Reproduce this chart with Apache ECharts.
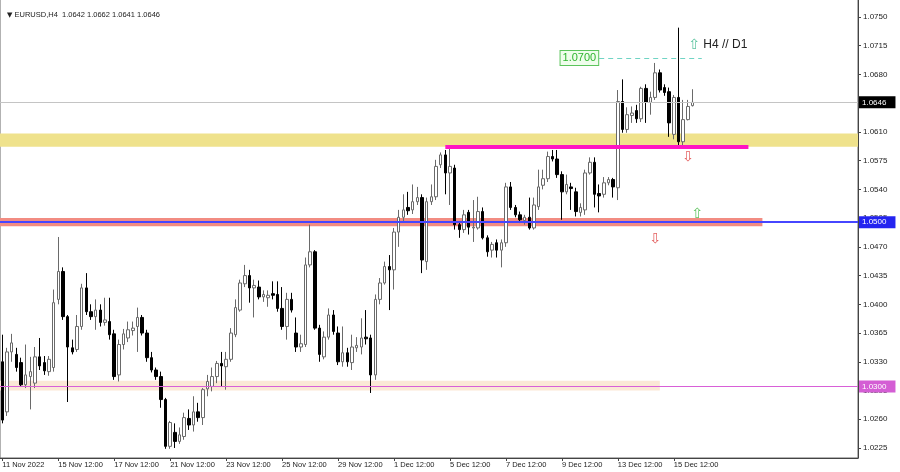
<!DOCTYPE html>
<html><head><meta charset="utf-8">
<script src="https://cdn.jsdelivr.net/npm/echarts@6/dist/echarts.min.js"></script>
<style>html,body{margin:0;padding:0;background:#fff}#c{width:900px;height:472px}</style>
</head><body><div id="c"></div>
<script>
// ---- data (EURUSD H4) ----
const opens = [1.0330,1.0269,1.0342,1.0339,1.0329,1.0302,1.0312,1.0304,1.0336,1.0329,1.0318,1.0323,1.0406,1.0440,1.0385,1.0347,1.0345,1.0373,1.0420,1.0391,
1.0385,1.0393,1.0378,1.0379,1.0364,1.0314,1.0351,1.0359,1.0368,1.0373,1.0384,1.0365,1.0335,1.0320,1.0312,1.0284,1.0227,1.0244,1.0233,1.0239,
1.0261,1.0253,1.0269,1.0262,1.0297,1.0300,1.0312,1.0328,1.0324,1.0333,1.0363,1.0393,1.0425,1.0435,1.0420,1.0421,1.0409,1.0408,1.0413,1.0412,
1.0395,1.0373,1.0406,1.0365,1.0348,1.0351,1.0448,1.0464,1.0371,1.0336,1.0360,1.0387,1.0365,1.0330,1.0341,1.0329,1.0347,1.0348,1.0360,1.0359,
1.0314,1.0406,1.0426,1.0446,1.0442,1.0488,1.0506,1.0518,1.0515,1.0525,1.0530,1.0452,1.0525,1.0531,1.0570,1.0582,1.0560,1.0566,1.0497,1.0491,
1.0512,1.0493,1.0493,1.0513,1.0481,1.0466,1.0475,1.0466,1.0475,1.0543,1.0518,1.0509,1.0502,1.0506,1.0493,1.0519,1.0545,1.0553,1.0580,1.0577,
1.0558,1.0537,1.0543,1.0537,1.0512,1.0515,1.0560,1.0573,1.0535,1.0534,1.0548,1.0552,1.0542,1.0647,1.0613,1.0630,1.0636,1.0626,1.0663,1.0646,
1.0652,1.0682,1.0664,1.0659,1.0607,1.0652,1.0598,1.0625,1.0642];
const closes = [1.0259,1.0342,1.0353,1.0323,1.0302,1.0314,1.0318,1.0336,1.0325,1.0319,1.0333,1.0402,1.0440,1.0385,1.0348,1.0342,1.0373,1.0420,1.0391,1.0385,
1.0393,1.0378,1.0381,1.0363,1.0312,1.0351,1.0364,1.0369,1.0371,1.0384,1.0365,1.0335,1.0320,1.0312,1.0284,1.0227,1.0256,1.0233,1.0241,1.0262,
1.0253,1.0269,1.0262,1.0296,1.0306,1.0312,1.0328,1.0325,1.0333,1.0365,1.0396,1.0426,1.0435,1.0420,1.0423,1.0409,1.0412,1.0411,1.0411,1.0395,
1.0373,1.0406,1.0393,1.0348,1.0352,1.0448,1.0464,1.0371,1.0339,1.0360,1.0387,1.0367,1.0330,1.0341,1.0330,1.0348,1.0350,1.0359,1.0358,1.0314,
1.0406,1.0426,1.0446,1.0442,1.0488,1.0506,1.0515,1.0514,1.0525,1.0530,1.0454,1.0525,1.0531,1.0568,1.0582,1.0560,1.0568,1.0497,1.0491,1.0509,
1.0494,1.0494,1.0513,1.0481,1.0464,1.0473,1.0466,1.0475,1.0543,1.0518,1.0509,1.0503,1.0506,1.0493,1.0521,1.0543,1.0553,1.0580,1.0577,1.0558,
1.0537,1.0546,1.0541,1.0513,1.0518,1.0560,1.0573,1.0534,1.0532,1.0548,1.0552,1.0543,1.0647,1.0613,1.0631,1.0633,1.0626,1.0663,1.0646,1.0652,
1.0682,1.0661,1.0658,1.0621,1.0652,1.0598,1.0625,1.0641,1.0646];
const lows = [1.0255,1.0264,1.0330,1.0318,1.0300,1.0298,1.0272,1.0298,1.0320,1.0314,1.0313,1.0318,1.0400,1.0381,1.0281,1.0339,1.0342,1.0369,1.0387,1.0381,
1.0369,1.0373,1.0374,1.0357,1.0308,1.0306,1.0345,1.0354,1.0362,1.0342,1.0362,1.0330,1.0317,1.0308,1.0274,1.0224,1.0224,1.0225,1.0230,1.0235,
1.0247,1.0245,1.0257,1.0253,1.0288,1.0294,1.0304,1.0300,1.0296,1.0330,1.0360,1.0391,1.0421,1.0402,1.0384,1.0406,1.0403,1.0397,1.0406,1.0391,
1.0369,1.0357,1.0390,1.0342,1.0342,1.0348,1.0445,1.0369,1.0330,1.0333,1.0357,1.0363,1.0326,1.0324,1.0324,1.0320,1.0342,1.0339,1.0351,1.0292,
1.0308,1.0400,1.0424,1.0393,1.0418,1.0470,1.0501,1.0509,1.0510,1.0521,1.0438,1.0442,1.0521,1.0527,1.0566,1.0534,1.0521,1.0491,1.0481,1.0487,
1.0485,1.0476,1.0491,1.0479,1.0458,1.0457,1.0457,1.0445,1.0470,1.0515,1.0506,1.0499,1.0497,1.0491,1.0491,1.0515,1.0540,1.0549,1.0574,1.0554,
1.0503,1.0534,1.0515,1.0507,1.0507,1.0509,1.0558,1.0518,1.0512,1.0530,1.0545,1.0530,1.0527,1.0609,1.0609,1.0621,1.0621,1.0622,1.0621,1.0631,
1.0649,1.0658,1.0654,1.0604,1.0601,1.0592,1.0592,1.0624,1.0641];
const highs = [1.0363,1.0347,1.0364,1.0347,1.0335,1.0351,1.0336,1.0348,1.0359,1.0337,1.0337,1.0418,1.0482,1.0445,1.0387,1.0357,1.0387,1.0425,1.0438,1.0400,
1.0406,1.0400,1.0408,1.0408,1.0369,1.0357,1.0370,1.0379,1.0379,1.0396,1.0387,1.0369,1.0342,1.0323,1.0318,1.0286,1.0258,1.0255,1.0250,1.0268,
1.0272,1.0288,1.0280,1.0298,1.0314,1.0323,1.0331,1.0342,1.0342,1.0371,1.0406,1.0430,1.0448,1.0442,1.0430,1.0429,1.0417,1.0417,1.0428,1.0428,
1.0421,1.0414,1.0414,1.0384,1.0363,1.0457,1.0497,1.0466,1.0375,1.0367,1.0395,1.0393,1.0373,1.0373,1.0347,1.0363,1.0360,1.0383,1.0393,1.0363,
1.0412,1.0432,1.0452,1.0460,1.0493,1.0515,1.0534,1.0537,1.0546,1.0543,1.0534,1.0530,1.0546,1.0576,1.0585,1.0588,1.0592,1.0570,1.0501,1.0515,
1.0515,1.0527,1.0531,1.0518,1.0484,1.0476,1.0479,1.0479,1.0548,1.0549,1.0521,1.0513,1.0509,1.0530,1.0530,1.0564,1.0564,1.0586,1.0588,1.0588,
1.0562,1.0558,1.0548,1.0542,1.0523,1.0564,1.0579,1.0579,1.0546,1.0555,1.0555,1.0554,1.0661,1.0674,1.0640,1.0641,1.0643,1.0665,1.0668,1.0659,
1.0694,1.0686,1.0668,1.0664,1.0655,1.0737,1.0649,1.0649,1.0662];

const symbolName = 'EURUSD,H4';
const xTickLabels = ['11 Nov 2022','15 Nov 12:00','17 Nov 12:00','21 Nov 12:00','23 Nov 12:00','25 Nov 12:00','29 Nov 12:00','1 Dec 12:00','5 Dec 12:00','7 Dec 12:00','9 Dec 12:00','13 Dec 12:00','15 Dec 12:00'];
const yTickLabels = [1.0225,1.0260,1.0295,1.0330,1.0365,1.0400,1.0435,1.0470,1.0505,1.0540,1.0575,1.0610,1.0645,1.0680,1.0715,1.0750];

// annotation levels (price) and anchor bars (bar index)
const currentPrice = 1.0646;
const yellowZone = [1.0592, 1.0608];
const pinkLevel = 1.0592, pinkBars = [95, 160];
const blueLevel = 1.0500, salmonZone = [1.0495, 1.0505], salmonEndBar = 163;
const violetLevel = 1.0300, peachZone = [1.0295, 1.0307], peachEndBar = 141;
const targetLevel = 1.0700, targetBars = [128, 150];
const downArrows = [[147, 1.0579], [140, 1.0479]];
const upArrows = [[149, 1.0510]];
const tfNote = [147, 1.0716];

// bar timestamps (4-hour bars, weekdays) incl. empty chart-shift space
const totalSlots = 184;
const months = ['Jan','Feb','Mar','Apr','May','Jun','Jul','Aug','Sep','Oct','Nov','Dec'];
const categories = [];
for (let t = Date.UTC(2022,10,11,12); categories.length < totalSlots; t += 4*3600*1000) {
  const d = new Date(t), wd = d.getUTCDay();
  if (wd === 0 || wd === 6) continue;
  categories.push(d.getUTCDate() + ' ' + months[d.getUTCMonth()] + ' ' + String(d.getUTCHours()).padStart(2,'0') + ':00');
}
const candles = opens.map((o, i) => [o, closes[i], lows[i], highs[i]]);
const last = candles.length - 1;

const FONT = 'Liberation Sans';
const FS = 7.5, FSY = 8;
const showTick = (i) => i % 12 === 0 && i / 12 < xTickLabels.length;
const axisBox = (bg) => ({show: true, position: 'end', distance: 1, formatter: (p) => Number(p.value).toFixed(4),
  backgroundColor: bg, color: '#fff', fontSize: FSY, fontFamily: FONT, padding: [2, 9, 2, 3]});

const chart = echarts.init(document.getElementById('c'), null, {renderer: 'canvas'});
chart.setOption({
  animation: false,
  backgroundColor: '#fff',
  title: {text: '{t|\u25BC} ' + symbolName + '  ' + [opens[last], highs[last], lows[last], closes[last]].map(v => v.toFixed(4)).join(' '),
    left: 2, top: 6, textStyle: {fontSize: FS, fontWeight: 'normal', color: '#222', fontFamily: FONT,
      rich: {t: {fontSize: 7, color: '#222', fontFamily: 'DejaVu Sans'}}}},
  grid: {left: 0, right: 42, top: -1, bottom: 14, containLabel: false, outerBoundsMode: 'none',
    show: true, borderColor: '#666', borderWidth: 1, backgroundColor: 'transparent'},
  xAxis: {
    type: 'category', data: categories, boundaryGap: true,
    axisLine: {show: true, lineStyle: {color: '#444'}},
    axisTick: {show: true, alignWithLabel: true, length: 3, interval: (i) => showTick(i), lineStyle: {color: '#444'}},
    axisLabel: {interval: (i) => showTick(i), formatter: (v, i) => xTickLabels[i / 12], align: 'left', margin: 3,
      fontSize: FS, color: '#222', fontFamily: FONT},
    splitLine: {show: false}
  },
  yAxis: {
    type: 'value', position: 'right', min: 1.02128, max: 1.07719, scale: true,
    axisLine: {show: true, lineStyle: {color: '#444'}},
    axisTick: {show: true, length: 3, customValues: yTickLabels, lineStyle: {color: '#444'}},
    axisLabel: {customValues: yTickLabels, formatter: (v) => v.toFixed(4), margin: 5, fontSize: FSY, color: '#222', fontFamily: FONT},
    splitLine: {show: false}
  },
  series: [
    {
      type: 'line', data: [], z: 1, silent: true,
      markArea: {silent: true, itemStyle: {opacity: 1},
        data: [
          [{yAxis: yellowZone[1], itemStyle: {color: '#efe28c', opacity: 1}}, {yAxis: yellowZone[0]}],
          [{yAxis: peachZone[1], itemStyle: {color: '#fbe8d6', opacity: 1}}, {xAxis: peachEndBar, yAxis: peachZone[0]}]
        ]}
    },
    {
      type: 'candlestick', data: candles, z: 2, barWidth: 3, clip: false,
      itemStyle: {color: '#ffffff', color0: '#000000', borderColor: '#6a6a6a', borderColor0: '#000000', borderWidth: 1}
    },
    {
      type: 'line', data: [], z: 3, silent: true,
      markArea: {silent: true, itemStyle: {opacity: 1},
        data: [
          [{yAxis: salmonZone[1], itemStyle: {color: '#f28c82', opacity: 1}}, {xAxis: salmonEndBar, yAxis: salmonZone[0]}]
        ]},
      markLine: {silent: true, symbol: ['none', 'none'], animation: false, precision: 4,
        data: [
          {yAxis: currentPrice, lineStyle: {color: '#c4c4c4', width: 1, type: 'solid'}, label: axisBox('#000000')},
          {yAxis: blueLevel, lineStyle: {color: '#4646ff', width: 2, type: 'solid'}, label: axisBox('#2424f0')},
          {yAxis: violetLevel, lineStyle: {color: '#d860d8', width: 1, type: 'solid'}, label: axisBox('#d45ed4')},
          [{coord: [pinkBars[0], pinkLevel], lineStyle: {color: '#ff14c4', width: 4, type: 'solid'}, label: {show: false}},
           {coord: [pinkBars[1], pinkLevel]}],
          [{coord: [targetBars[0], targetLevel], lineStyle: {color: '#70d4c4', width: 1, type: [5, 4]},
            label: {show: true, position: 'start', distance: 1, formatter: targetLevel.toFixed(4), color: '#2eb52e',
              fontSize: 11, fontFamily: FONT, backgroundColor: '#effdec', borderColor: '#5cc45c', borderWidth: 1, padding: [2, 2, 1, 2]}},
           {coord: [targetBars[1], targetLevel]}]
        ]},
      markPoint: {silent: true, symbol: 'circle', symbolSize: 1, itemStyle: {color: 'rgba(0,0,0,0)'}, animation: false,
        data: [
          ...downArrows.map(p => ({coord: p, label: {show: true, position: 'inside', formatter: '\u21E9', color: '#e35d5d', fontSize: 14, fontFamily: 'DejaVu Sans'}})),
          ...upArrows.map(p => ({coord: p, label: {show: true, position: 'inside', formatter: '\u21E7', color: '#5ec45e', fontSize: 14, fontFamily: 'DejaVu Sans'}})),
          {coord: tfNote, label: {show: true, position: 'right', distance: 0, formatter: '{a|\u21E7} {b|H4 // D1}',
            rich: {a: {color: '#5ec4a0', fontSize: 14, fontFamily: 'DejaVu Sans'}, b: {color: '#222', fontSize: 12, fontFamily: FONT}}}}
        ]}
    }
  ]
});
</script></body></html>
